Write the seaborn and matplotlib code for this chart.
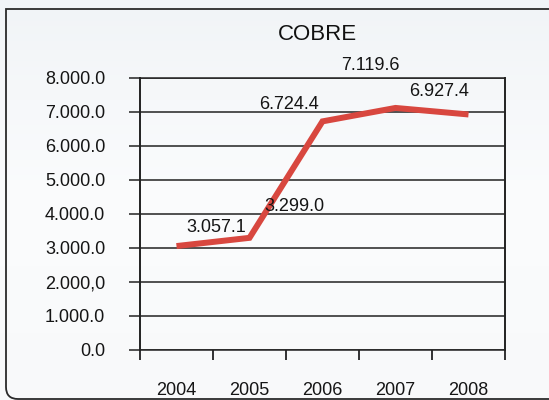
import matplotlib
matplotlib.use("Agg")
import matplotlib.pyplot as plt
import numpy as np
import pandas as pd
import seaborn as sns
from matplotlib.path import Path
from matplotlib.patches import PathPatch
from matplotlib.colors import LinearSegmentedColormap

years = ["2004", "2005", "2006", "2007", "2008"]
values = [3057.1, 3299.0, 6724.4, 7119.6, 6927.4]
value_labels = ["3.057.1", "3.299.0", "6.724.4", "7.119.6", "6.927.4"]
label_offsets_px = [(40, 19), (45, 31), (-34, 17), (-25, 42), (-29, 23)]
y_ticks = [0, 1000, 2000, 3000, 4000, 5000, 6000, 7000, 8000]
y_tick_labels = ["0.0", "1.000.0", "2.000,0", "3.000.0", "4.000.0",
                 "5.000.0", "6.000.0", "7.000.0", "8.000.0"]
title = "COBRE"

sns.set_theme(style="white")
plt.rcParams["font.family"] = ["Liberation Sans", "DejaVu Sans"]

fig = plt.figure(figsize=(5.49, 4.00), dpi=100)

# background gradient (pixel coordinates, y down)
bg = fig.add_axes([0, 0, 1, 1], zorder=-10)
grad = np.linspace(0, 1, 256).reshape(-1, 1)
cmap = LinearSegmentedColormap.from_list("bg", ["#f1f4f7", "#fbfcfd", "#f8f9fa"])
bg.imshow(grad, aspect="auto", cmap=cmap, extent=[0, 549, 400, 0])
bg.set_xlim(0, 549)
bg.set_ylim(400, 0)
bg.axis("off")
# border: square top-left corner, rounded bottom-left, open to the right
r = 12
verts = [(560, 9), (6, 9), (6, 399 - r), (6, 399), (6 + r, 399), (560, 399)]
codes = [Path.MOVETO, Path.LINETO, Path.LINETO, Path.CURVE3, Path.CURVE3, Path.LINETO]
bg.add_patch(PathPatch(Path(verts, codes), fill=False, edgecolor="#2a2a2a",
                       linewidth=1.3))

ax = fig.add_axes([140 / 549, 1 - 350 / 400, 365 / 549, 272 / 400])
ax.set_facecolor("none")

df = pd.DataFrame({"year": np.arange(len(years)), "value": values})
sns.lineplot(data=df, x="year", y="value", ax=ax, color="#d8473f",
             linewidth=4.3, solid_capstyle="butt", solid_joinstyle="miter")

ax.set_xlim(-0.5, len(years) - 0.5)
ax.set_ylim(0, 8000)

ax.set_yticks(y_ticks)
ax.set_yticklabels(y_tick_labels, fontsize=13, color="#151515")
ax.tick_params(axis="y", direction="out", length=8, width=1.1,
               color="#222222", pad=17, left=True)

ax.set_xticks(np.arange(-0.5, len(years), 1.0))
ax.set_xticklabels([])
ax.set_xticks(np.arange(len(years)), minor=True)
ax.set_xticklabels(years, minor=True, fontsize=13, color="#151515")
ax.tick_params(axis="x", which="major", direction="out", length=7.5,
               width=1.3, color="#222222", bottom=True)
ax.tick_params(axis="x", which="minor", length=0, pad=23, bottom=True)

ax.yaxis.grid(True, color="#222222", linewidth=1.1)
ax.set_axisbelow(True)
for s in ["left", "right"]:
    ax.spines[s].set_visible(True)
    ax.spines[s].set_color("#222222")
    ax.spines[s].set_linewidth(1.4)
for s in ["top", "bottom"]:
    ax.spines[s].set_visible(True)
    ax.spines[s].set_color("#222222")
    ax.spines[s].set_linewidth(1.1)

ax.set_xlabel("")
ax.set_ylabel("")

for i, (v, lab, off) in enumerate(zip(values, value_labels, label_offsets_px)):
    ax.annotate(lab, xy=(i, v), xytext=(off[0], off[1]),
                textcoords="offset pixels", ha="center", va="center",
                fontsize=13, color="#151515", annotation_clip=False)

fig.text(317 / 549, 1 - 35 / 400, title, ha="center", va="center",
         fontsize=16, color="#111111")

fig.savefig("out.png", dpi=100)
